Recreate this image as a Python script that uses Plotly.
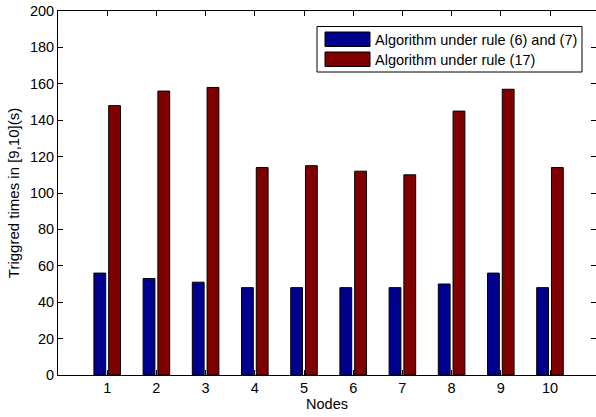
import plotly.graph_objects as go

nodes = [1, 2, 3, 4, 5, 6, 7, 8, 9, 10]
rule_6_7 = [56, 53, 51, 48, 48, 48, 48, 50, 56, 48]
rule_17 = [148, 156, 158, 114, 115, 112, 110, 145, 157, 114]
series_names = ["Algorithm under rule (6) and (7)", "Algorithm under rule (17)"]
y_ticks = [0, 20, 40, 60, 80, 100, 120, 140, 160, 180, 200]

W, H = 596, 417
L, R, T, B = 58, 596, 11, 375
FONT = "Liberation Sans, Arial, Helvetica, sans-serif"
BLUE = "#00008F"
RED = "#800000"
FS = 14.5

def px(x):
    return (x - L) / (R - L)

def py(y):
    return (B - y) / (B - T)

fig = go.Figure()
fig.add_trace(go.Bar(x=nodes, y=rule_6_7, name=series_names[0],
                     marker=dict(color=BLUE, line=dict(color="black", width=1))))
fig.add_trace(go.Bar(x=nodes, y=rule_17, name=series_names[1],
                     marker=dict(color=RED, line=dict(color="black", width=1))))
# invisible trace for right-side ticks
fig.add_trace(go.Scatter(x=[nodes[0]], y=[0], yaxis="y2", mode="markers",
                         marker=dict(opacity=0), showlegend=False, hoverinfo="skip"))

# manual MATLAB-style legend
shapes = [
    dict(type="rect", xref="paper", yref="paper", x0=px(317), x1=px(582), y0=py(72), y1=py(26.5),
         line=dict(color="black", width=1), fillcolor="white", layer="above"),
    dict(type="rect", xref="paper", yref="paper", x0=px(325), x1=px(370), y0=py(46.5), y1=py(32),
         line=dict(color="black", width=1), fillcolor=BLUE, layer="above"),
    dict(type="rect", xref="paper", yref="paper", x0=px(325), x1=px(370), y0=py(66.5), y1=py(52),
         line=dict(color="black", width=1), fillcolor=RED, layer="above"),
]
annotations = [
    dict(xref="paper", yref="paper", x=px(373), y=py(39.5), text=series_names[0], showarrow=False,
         xanchor="left", yanchor="middle", font=dict(family=FONT, size=FS, color="black")),
    dict(xref="paper", yref="paper", x=px(373), y=py(60), text=series_names[1], showarrow=False,
         xanchor="left", yanchor="middle", font=dict(family=FONT, size=FS, color="black")),
]

fig.update_layout(
    width=W, height=H,
    margin=dict(l=L, r=W - R, t=T, b=H - B, pad=0, autoexpand=False),
    paper_bgcolor="white", plot_bgcolor="white",
    barmode="group", bargap=0.4, bargroupgap=0.2,
    showlegend=False,
    font=dict(family=FONT, size=FS, color="black"),
    shapes=shapes, annotations=annotations,
    xaxis=dict(range=[0, 10.935], tickvals=nodes, ticktext=[str(n) for n in nodes],
               ticks="inside", ticklen=5, tickcolor="black", showline=True, linecolor="black",
               linewidth=1, mirror="ticks", showgrid=False, zeroline=False, automargin=False,
               title=dict(text="Nodes", font=dict(size=FS), standoff=2),
               tickfont=dict(size=FS)),
    yaxis=dict(range=[0, 200], tickvals=y_ticks, ticks="inside", ticklen=5, tickcolor="black",
               showline=True, linecolor="black", linewidth=1, showgrid=False, zeroline=False,
               automargin=False,
               title=dict(text="Triggred times in [9,10](s)", font=dict(size=15), standoff=6),
               tickfont=dict(size=FS)),
    yaxis2=dict(range=[0, 200], tickvals=y_ticks, overlaying="y", side="right", ticks="inside",
                ticklen=5, tickcolor="black", showline=False, showgrid=False, zeroline=False,
                showticklabels=False, automargin=False),
)

fig.write_html("out.html", config={"displayModeBar": False},
               post_script="document.body.style.margin='0';document.body.style.overflow='hidden';")
